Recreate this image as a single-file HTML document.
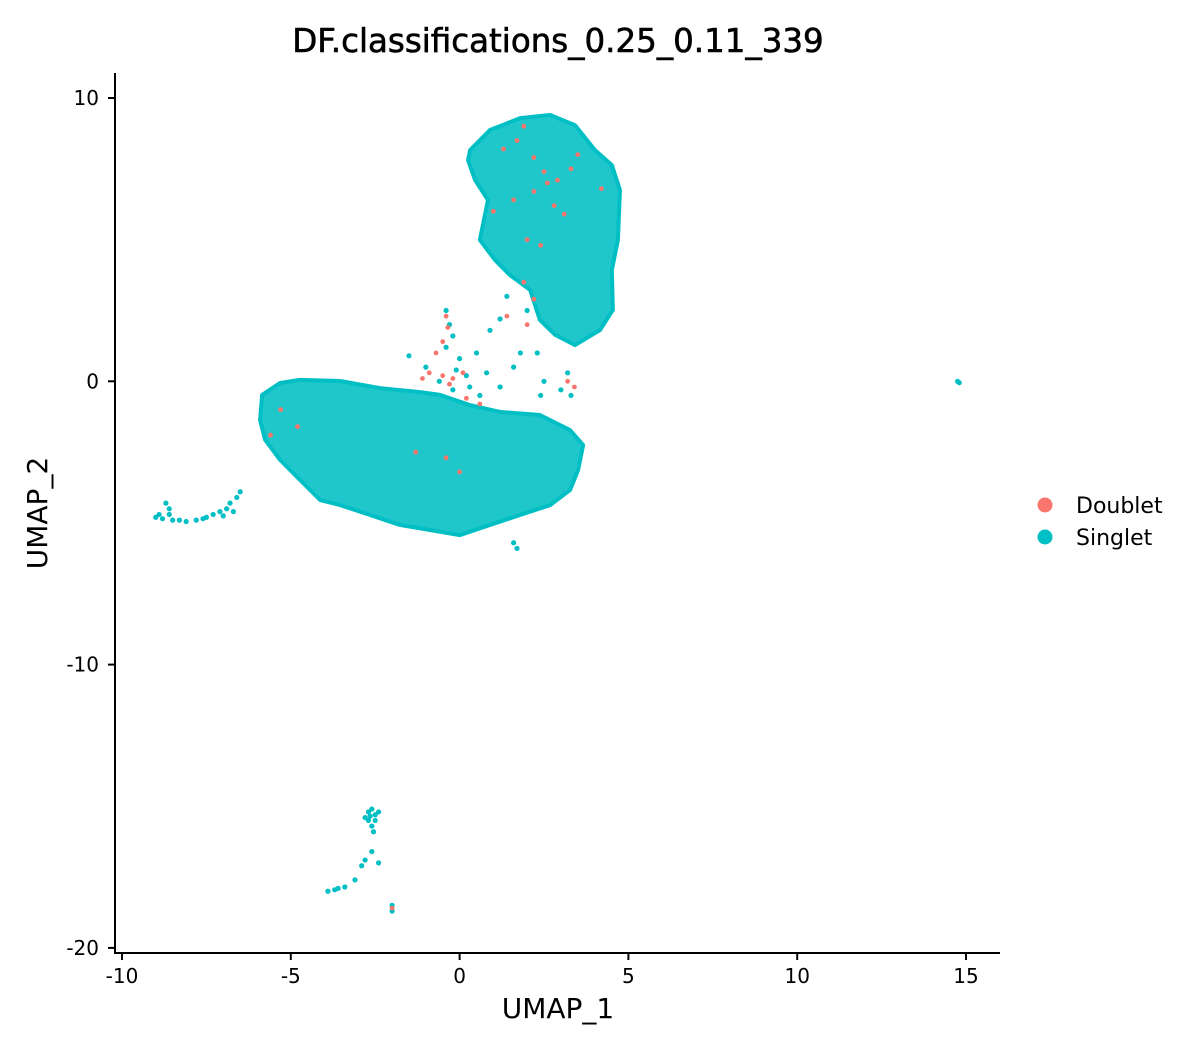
<!DOCTYPE html>
<html><head><meta charset="utf-8"><style>
body{margin:0;background:#fff}
svg{display:block;font-family:"DejaVu Sans","Liberation Sans",sans-serif}
</style></head><body>
<svg id="chart" width="1200" height="1050" viewBox="0 0 1200 1050" xmlns="http://www.w3.org/2000/svg">
<text x="558" y="52" font-size="32.5" text-anchor="middle" stroke="#000" stroke-width="0.6">DF.classifications_0.25_0.11_339</text>
<g id="plot"></g>
<g id="axes"></g>
<text x="558" y="1018" font-size="28" text-anchor="middle">UMAP_1</text>
<text transform="translate(47,513) rotate(-90)" font-size="28" text-anchor="middle">UMAP_2</text>
<g>
<g><circle cx="1045" cy="505" r="7.5" fill="#F8766D"/><text x="1076" y="513" font-size="22">Doublet</text></g>
<g><circle cx="1045" cy="537" r="7.5" fill="#00BFC4"/><text x="1076" y="545" font-size="22">Singlet</text></g>
</g>
</svg>
<script>
const xTicks=[-10,-5,0,5,10,15];
const yTicks=[10,0,-10,-20];
const lowerBlob=[[-5.85,-0.48],[-5.32,-0.06],[-4.73,0.05],[-3.54,0.01],[-2.36,-0.24],[-1.17,-0.38],[-0.58,-0.48],[0.31,-0.84],[1.2,-1.08],[2.38,-1.19],[3.27,-1.72],[3.66,-2.25],[3.51,-3.13],[3.27,-3.84],[2.68,-4.37],[1.79,-4.72],[0.9,-5.07],[0.01,-5.43],[-0.88,-5.25],[-1.77,-5.07],[-2.65,-4.72],[-3.54,-4.37],[-4.13,-4.19],[-4.73,-3.48],[-5.32,-2.77],[-5.76,-2.07],[-5.91,-1.37]];
const upperBlob=[[0.31,8.16],[0.9,8.87],[1.79,9.29],[2.68,9.4],[3.42,9.04],[4.01,8.16],[4.51,7.63],[4.75,6.75],[4.69,4.99],[4.51,3.93],[4.54,2.52],[4.16,1.81],[3.42,1.28],[2.83,1.64],[2.38,2.16],[2.09,3.22],[1.49,3.75],[1.05,4.28],[0.6,4.99],[0.84,6.4],[0.46,7.1],[0.25,7.81]];
const singletX=[-0.4,-0.3,-0.2,-0.4,0,-0.1,0.2,-1.5,-1.0,0.5,0.8,1.2,1.6,1.8,2.0,2.5,2.4,3.2,3.0,1.2,0.9,1.4,2.3,3.3,0.6,0.3,-0.2,-0.6,1.7,1.6,-9,-8.8,-8.6,-8.5,-8.3,-8.1,-7.8,-7.5,-7.3,-7.1,-6.9,-6.8,-6.6,-6.5,-8.6,-8.7,-7.0,-6.7,-8.9,-7.6,-2.7,-2.6,-2.5,-2.7,-2.6,-2.5,-2.55,-2.65,-2.4,-2.8,-2.6,-2.8,-2.9,-2.4,-3.1,-3.4,-3.7,-3.9,-3.6,-2.0,-2.0,14.75,14.8];
const singletY=[2.5,2.0,1.6,1.2,0.8,0.4,0.2,0.9,0.5,1.0,0.3,-0.2,0.5,1.0,2.5,0,-0.5,0.3,-0.3,2.2,1.8,3.0,1.0,-0.5,-0.5,-0.2,-0.3,0,-5.9,-5.7,-4.8,-4.85,-4.7,-4.9,-4.9,-4.95,-4.9,-4.8,-4.7,-4.6,-4.5,-4.3,-4.1,-3.9,-4.5,-4.3,-4.75,-4.6,-4.7,-4.85,-15.2,-15.1,-15.3,-15.5,-15.7,-15.5,-15.9,-15.35,-15.2,-15.4,-16.6,-16.9,-17.1,-17.0,-17.6,-17.85,-17.95,-18.0,-17.9,-18.7,-18.5,0,-0.05];
const doubletX=[-0.4,-0.35,-0.5,-0.7,-0.9,-0.5,-0.2,0.1,-0.3,-1.1,0.2,0.6,1.0,1.3,1.7,2.2,2.5,2.9,3.3,3.5,2.8,3.1,2.2,2.0,2.4,1.9,2.2,2.0,1.4,3.2,3.4,-5.3,-5.6,-4.8,-0.4,-1.3,0.0,1.6,1.9,2.6,4.2,-2.0];
const doubletY=[2.3,1.9,1.4,1.0,0.3,0.2,0.1,0.3,-0.1,0.1,-0.6,-0.8,6.0,8.2,8.5,7.9,7.4,7.1,7.5,8.0,6.2,5.9,6.7,5.0,4.8,3.5,2.9,2.0,2.3,0,-0.2,-1.0,-1.9,-1.6,-2.7,-2.5,-3.2,6.4,9.0,7.0,6.8,-18.6];

const NS="http://www.w3.org/2000/svg";
const sx=v=>459.6+v*33.76;
const sy=v=>381.3-v*28.33;
const plot=document.getElementById('plot');
const axes=document.getElementById('axes');
function mk(tag,attrs,parent){const e=document.createElementNS(NS,tag);for(const k in attrs)e.setAttribute(k,attrs[k]);parent.appendChild(e);return e;}

[[lowerBlob,'singlet-cluster-main'],[upperBlob,'singlet-cluster-upper']].forEach(([poly,name])=>{
  const p=mk('polygon',{points:poly.map(d=>sx(d[0])+','+sy(d[1])).join(' '),fill:'#00BFC4','fill-opacity':'0.88',stroke:'#00BFC4','stroke-width':'4','stroke-linejoin':'round'},plot);
  
  
});
singletX.forEach((x,i)=>{
  const c=mk('circle',{cx:sx(x),cy:sy(singletY[i]),r:2.6,fill:'#00BFC4'},plot);
  
  
});
doubletX.forEach((x,i)=>{
  const c=mk('circle',{cx:sx(x),cy:sy(doubletY[i]),r:2.4,fill:'#F8766D'},plot);
  
  
});

const yl=mk('line',{x1:115,y1:73,x2:115,y2:953,stroke:'#000','stroke-width':2},axes);


const xl=mk('line',{x1:114,y1:953,x2:1000,y2:953,stroke:'#000','stroke-width':2},axes);


xTicks.forEach(t=>{
  mk('line',{x1:sx(t),y1:953,x2:sx(t),y2:960,stroke:'#000','stroke-width':2},axes);
  const tx=mk('text',{x:sx(t),y:983,'font-size':20,'text-anchor':'middle',fill:'#000'},axes);
  tx.textContent=t;
  
  
});
yTicks.forEach(t=>{
  mk('line',{x1:108,y1:sy(t),x2:115,y2:sy(t),stroke:'#000','stroke-width':2},axes);
  const tx=mk('text',{x:99,y:sy(t)+7,'font-size':20,'text-anchor':'end',fill:'#000'},axes);
  tx.textContent=t;
  
  
});
</script>
</body></html>
